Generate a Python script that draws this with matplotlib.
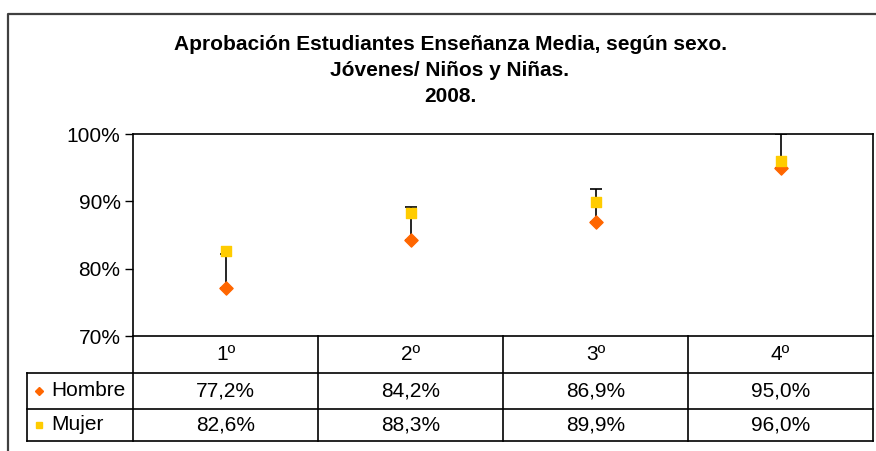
import matplotlib.pyplot as plt

# Datos
cursos = ['1º', '2º', '3º', '4º']
hombre = [77.2, 84.2, 86.9, 95.0]
mujer = [82.6, 88.3, 89.9, 96.0]
barra_sup = [5, 5, 5, 5]
series = ['Hombre', 'Mujer']
yticks = [70, 80, 90, 100]

naranja = '#FF6600'
amarillo = '#FFCC00'
plt.rcParams['font.family'] = ['Liberation Sans', 'DejaVu Sans']

W, H = 876, 451
fig = plt.figure(figsize=(W / 100, H / 100), dpi=100)

# area del grafico (pixeles)
x0, x1 = 133, 873
y_top, y_bot = 134, 336
ax = fig.add_axes([x0 / W, 1 - y_bot / H, (x1 - x0) / W, (y_bot - y_top) / H])
x = list(range(len(cursos)))
ax.errorbar(x, hombre, yerr=[[0] * 4, barra_sup], fmt='none', ecolor='black',
            elinewidth=1.2, capsize=4.5, capthick=1.2, zorder=2)
ax.scatter(x, hombre, marker='D', s=45, color=naranja, zorder=3)
ax.scatter(x, mujer, marker='s', s=50, color=amarillo, zorder=3)
ax.set_xlim(-0.5, len(cursos) - 0.5)
ax.set_ylim(70, 100)
ax.set_yticks(yticks)
ax.set_yticklabels([f'{v}%' for v in yticks], fontsize=15)
ax.set_xticks([])
ax.tick_params(axis='y', length=6, width=1, pad=3)
for s in ax.spines.values():
    s.set_linewidth(1.2)

# capa de pixeles para titulo, tabla y borde
ov = fig.add_axes([0, 0, 1, 1])
ov.set_xlim(0, W)
ov.set_ylim(H, 0)
ov.axis('off')
ov.patch.set_alpha(0)

# borde exterior
ov.plot([8, 8, W], [H, 14, 14], color='#404040', lw=1.6)

# titulo
titulo = ['Aprobación Estudiantes Enseñanza Media, según sexo.',
          'Jóvenes/ Niños y Niñas.', '2008.']
for i, t in enumerate(titulo):
    ov.text(450, 44 + i * 26.5, t, ha='center', va='center', fontsize=15,
            fontweight='bold')

# tabla de datos
cw = (x1 - x0) / len(cursos)
filas = [336, 373, 409, 441]
xl = 27
for yy in filas[1:]:
    ov.plot([xl, x1], [yy, yy], color='black', lw=1.2)
ov.plot([xl, xl], [filas[1], filas[3]], color='black', lw=1.2)
for i in range(len(cursos) + 1):
    ov.plot([x0 + i * cw] * 2, [filas[0], filas[3]], color='black', lw=1.2)

for i, c in enumerate(cursos):
    cx = x0 + (i + 0.5) * cw
    ov.text(cx, (filas[0] + filas[1]) / 2, c, ha='center', va='center', fontsize=15)
    ov.text(cx, (filas[1] + filas[2]) / 2, f'{hombre[i]:.1f}%'.replace('.', ','),
            ha='center', va='center', fontsize=15)
    ov.text(cx, (filas[2] + filas[3]) / 2, f'{mujer[i]:.1f}%'.replace('.', ','),
            ha='center', va='center', fontsize=15)

marcas = [('D', naranja, 4.5), ('s', amarillo, 5)]
for j, (nombre, (m, col, ms)) in enumerate(zip(series, marcas)):
    yc = (filas[j + 1] + filas[j + 2]) / 2
    ov.plot([39], [yc], marker=m, color=col, ms=ms, ls='none')
    ov.text(51, yc, nombre, ha='left', va='center', fontsize=15)

fig.savefig('out.png', dpi=100)
